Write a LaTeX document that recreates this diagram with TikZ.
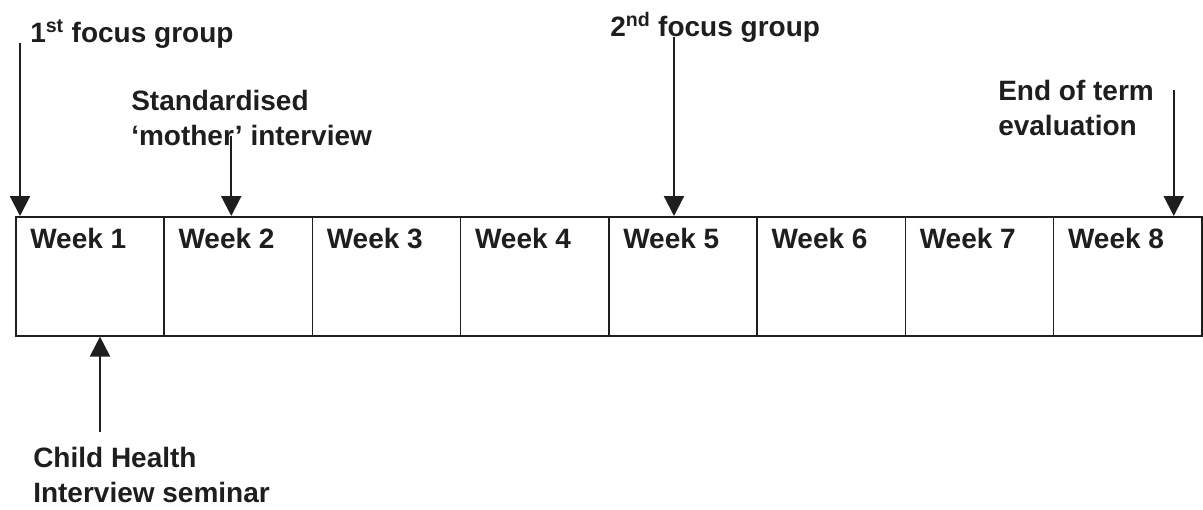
\documentclass[tikz,border=0pt]{standalone}
\usepackage{fontspec}
\setmainfont{Liberation Sans}
\usetikzlibrary{arrows.meta,positioning,calc}
\definecolor{ink}{HTML}{1E1E1E}
\tikzset{
  >={Triangle[length=15pt,width=15pt]},
  every node/.style={font=\fontsize{21}{26}\selectfont\bfseries,text=ink},
  week/.style={draw=ink,line width=1.2pt,minimum width=111.19pt,minimum height=89.25pt,anchor=north west,inner sep=0pt},
  weeklabel/.style={anchor=north west,inner sep=0pt},
  event/.style={align=left,anchor=base west,inner sep=0pt},
  arrow/.style={->,line width=1.6pt,draw=ink},
}

\begin{document}
\begin{tikzpicture}[x=0.75pt,y=-0.75pt]
\useasboundingbox (0,0) rectangle (1203,510);

% Timeline: eight weeks
\foreach \i in {1,...,8}
  \node[week] (w\i) at ({15+(\i-1)*148.25},216) {};
\foreach \i in {1,...,8}
  \node[weeklabel] (wl\i) at ($(w\i.north west)+(15,12)$) {Week \i};

% Events above the timeline
\node[event] (fg1) at (30,43) {1\textsuperscript{st} focus group};
\node[event] (sm) at (131,145) {Standardised\\‘mother’ interview};
\node[event] (fg2) at (610,37) {2\textsuperscript{nd} focus group};
\node[event] (et) at (998,135) {End of term\\evaluation};

% Event below the timeline
\node[event] (ch) at (33,502) {Child Health\\Interview seminar};

% Arrows
\coordinate (a1) at ($(w1.north west)+(5,0)$);
\coordinate (a2) at ($(w2.north west)+(68,0)$);
\coordinate (a5) at ($(w5.north west)+(66,0)$);
\coordinate (a8) at ($(w8.north west)+(121,0)$);
\coordinate (a9) at ($(w1.south west)+(85,0)$);
\draw[arrow] (fg1.base west -| a1) -- (a1);
\draw[arrow] ($(sm.south -| a2)+(0,-10)$) -- (a2);
\draw[arrow] (fg2.base -| a5) -- (a5);
\draw[arrow] ($(et.north -| a8)+(0,10)$) -- (a8);
\draw[arrow] ($(ch.north -| a9)+(0,-15)$) -- (a9);

\end{tikzpicture}
\end{document}
